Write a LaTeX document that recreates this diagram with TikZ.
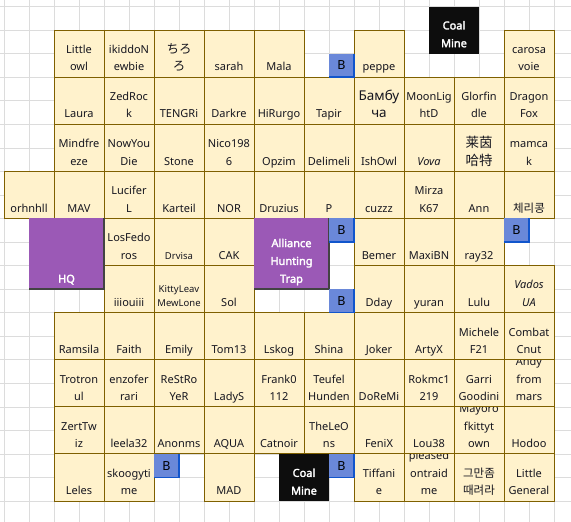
\documentclass[tikz,border=0pt]{standalone}
\usepackage{fontspec}
\setmainfont{Noto Sans}
\newfontfamily\wbold{Noto Sans}[FakeBold=2.5]
\newfontfamily\cjkjp{Noto Sans CJK JP}
\newfontfamily\cjksc{Noto Sans CJK SC}
\newfontfamily\cjkkr{Noto Sans CJK KR}
\definecolor{cellfill}{HTML}{FFF2CC}
\definecolor{cellline}{HTML}{7F6000}
\definecolor{gridc}{HTML}{DCDCDC}
\definecolor{purp}{HTML}{9B59B6}
\definecolor{bfill}{HTML}{6A88D9}
\definecolor{bline}{HTML}{1155CC}
\definecolor{txt}{HTML}{16161F}
\definecolor{coal}{HTML}{0D0D0D}
\definecolor{shade}{HTML}{434343}
\tikzset{
  gridline/.style={draw=gridc, line width=1pt},
  ycell/.style={draw=cellline, fill=cellfill, line width=1pt, minimum width=50pt, minimum height=47.1pt, inner sep=0pt, outer sep=0pt},
  ytext/.style={anchor=south, inner sep=0pt, align=center, text=txt, font=\fontsize{11}{17.4}\selectfont},
  small/.style={font=\fontsize{9.5}{14.3}\selectfont, yshift=0.9pt},
  cyr/.style={font=\fontsize{13.5}{17.4}\selectfont},
  itx/.style={font=\itshape\fontsize{11}{17.4}\selectfont},
  jp/.style={font=\cjkjp\fontsize{12.5}{17.4}\selectfont},
  zh/.style={font=\cjksc\fontsize{13.5}{17.4}\selectfont},
  kr/.style={font=\cjkkr\fontsize{11.5}{17.4}\selectfont},
  purpbox/.style={fill=purp, draw=none, minimum width=75pt, minimum height=70.65pt, inner sep=0pt, outer sep=0pt, anchor=north west},
  coalbox/.style={fill=coal, draw=none, minimum width=50pt, inner sep=0pt, outer sep=0pt, anchor=north west},
  shadeline/.style={draw=shade, line width=1.6pt},
  wtext/.style={anchor=south, inner sep=0pt, align=center, text=white, font=\wbold\fontsize{11}{17.8}\selectfont},
  bbox/.style={fill=bfill, draw=none, minimum width=25pt, minimum height=23.55pt, inner sep=0pt, outer sep=0pt, anchor=north west, text=black, font=\fontsize{12.5}{14}\selectfont},
  bborder/.style={draw=bline, line width=1.5pt}
}
\newcommand\C[5][]{%
  \node[ycell] (#2) at ({79+50*(#3)},{53.55+47.1*(#4)}) {};
  \node[ytext,#1] (#2t) at ([yshift=0.8pt]#2.south) {#5\strut};}
\newcommand\CC[5][]{%
  \node[ycell] (#2) at ({79+50*(#3)},{53.55+47.1*(#4)}) {};
  \begin{scope}
    \clip ([xshift=0.5pt,yshift=-0.5pt]#2.north west) rectangle ([xshift=-0.5pt]#2.south east);
    \node[ytext,#1] (#2t) at ([yshift=0.8pt]#2.south) {#5\strut};
  \end{scope}}
\newcommand\Bx[3]{%
  \node[bbox] (#1) at (#2,#3) {B};
  \draw[bborder] (#1.north east) -- (#1.south east) -- (#1.south west);}
\begin{document}
\begin{tikzpicture}[x=1pt,y=-1pt]
\useasboundingbox (0,0) rectangle (571,522);
\fill[white] (0,0) rectangle (571,522);
% background sheet grid
\foreach \i in {0,...,22} \draw[gridline] ({4.3+25*\i},0) -- ({4.3+25*\i},522);
\foreach \j in {0,...,21} \draw[gridline] (0,{6.7+23.55*\j}) -- (571,{6.7+23.55*\j});
% row 0
\C{a0}{0}{0}{Little\\owl}
\C{a1}{1}{0}{ikiddoN\\ewbie}
\C[jp]{a2}{2}{0}{ちろ\\ろ}
\C{a3}{3}{0}{sarah}
\C{a4}{4}{0}{Mala}
\C{a6}{6}{0}{peppe}
\C{a9}{9}{0}{carosa\\voie}
% row 1
\C{b0}{0}{1}{Laura}
\C{b1}{1}{1}{ZedRoc\\k}
\C{b2}{2}{1}{TENGRi}
\C{b3}{3}{1}{Darkre}
\C{b4}{4}{1}{HiRurgo}
\C{b5}{5}{1}{Tapir}
\C[cyr]{b6}{6}{1}{Бамбу\\ча}
\C{b7}{7}{1}{MoonLig\\htD}
\C{b8}{8}{1}{Glorfin\\dle}
\C{b9}{9}{1}{Dragon\\Fox}
% row 2
\C{c0}{0}{2}{Mindfre\\eze}
\C{c1}{1}{2}{NowYou\\Die}
\C{c2}{2}{2}{Stone}
\C{c3}{3}{2}{Nico198\\6}
\C{c4}{4}{2}{Opzim}
\C{c5}{5}{2}{Delimeli}
\C{c6}{6}{2}{IshOwl}
\C[itx]{c7}{7}{2}{Vova}
\C[zh]{c8}{8}{2}{莱茵\\哈特}
\C{c9}{9}{2}{mamca\\k}
% row 3
\C{dm}{-1}{3}{orhnhll}
\C{d0}{0}{3}{MAV}
\C{d1}{1}{3}{Lucifer\\L}
\C{d2}{2}{3}{Karteil}
\C{d3}{3}{3}{NOR}
\C{d4}{4}{3}{Druzius}
\C{d5}{5}{3}{P}
\C{d6}{6}{3}{cuzzz}
\C{d7}{7}{3}{Mirza\\K67}
\C{d8}{8}{3}{Ann}
\C[kr]{d9}{9}{3}{체리콩}
% row 4
\C{e1}{1}{4}{LosFedo\\ros}
\C[small]{e2}{2}{4}{Drvisa}
\C{e3}{3}{4}{CAK}
\C{e6}{6}{4}{Bemer}
\C{e7}{7}{4}{MaxiBN}
\C{e8}{8}{4}{ray32}
% row 5
\C{f1}{1}{5}{iiiouiii}
\C[small]{f2}{2}{5}{KittyLeav\\MewLone}
\C{f3}{3}{5}{Sol}
\C{f6}{6}{5}{Dday}
\C{f7}{7}{5}{yuran}
\C{f8}{8}{5}{Lulu}
\C[itx]{f9}{9}{5}{Vados\\UA}
% row 6
\C{g0}{0}{6}{Ramsila}
\C{g1}{1}{6}{Faith}
\C{g2}{2}{6}{Emily}
\C{g3}{3}{6}{Tom13}
\C{g4}{4}{6}{Lskog}
\C{g5}{5}{6}{Shina}
\C{g6}{6}{6}{Joker}
\C{g7}{7}{6}{ArtyX}
\C{g8}{8}{6}{Michele\\F21}
\C{g9}{9}{6}{Combat\\Cnut}
% row 7
\C{h0}{0}{7}{Trotron\\ul}
\C{h1}{1}{7}{enzofer\\rari}
\C{h2}{2}{7}{ReStRo\\YeR}
\C{h3}{3}{7}{LadyS}
\C{h4}{4}{7}{Frank0\\112}
\C{h5}{5}{7}{Teufel\\Hunden}
\C{h6}{6}{7}{DoReMi}
\C{h7}{7}{7}{Rokmc1\\219}
\C{h8}{8}{7}{Garri\\Goodini}
\CC{h9}{9}{7}{Andy\\from\\mars}
% row 8
\C{i0}{0}{8}{ZertTw\\iz}
\C{i1}{1}{8}{leela32}
\C{i2}{2}{8}{Anonms}
\C{i3}{3}{8}{AQUA}
\C{i4}{4}{8}{Catnoir}
\C{i5}{5}{8}{TheLeO\\ns}
\C{i6}{6}{8}{FeniX}
\C{i7}{7}{8}{Lou38}
\CC{i8}{8}{8}{Mayoro\\fkittyt\\own}
\C{i9}{9}{8}{Hodoo}
% row 9
\C{j0}{0}{9}{Leles}
\C{j1}{1}{9}{skoogyti\\me}
\C{j3}{3}{9}{MAD}
\C{j6}{6}{9}{Tiffani\\e}
\CC{j7}{7}{9}{pleased\\ontraid\\me}
\C[kr]{j8}{8}{9}{그만좀\\때려라}
\C{j9}{9}{9}{Little\\General}
% special blocks
\node[purpbox] (hq) at (29,218.4) {};
\draw[shadeline] (hq.north east) -- (hq.south east) -- (hq.south west);
\node[wtext] (hqt) at ([yshift=0.8pt]hq.south) {HQ\strut};
\node[purpbox] (trap) at (254,218.4) {};
\draw[shadeline] (trap.north east) -- (trap.south east) -- (trap.south west);
\node[wtext] (trapt) at ([yshift=0.8pt]trap.south) {Alliance\\Hunting\\Trap\strut};
\node[coalbox, minimum height=46.85pt] (coal1) at (429,6.7) {};
\node[wtext] (coal1t) at ([yshift=0.8pt]coal1.south) {Coal\\Mine\strut};
\node[coalbox, minimum height=47.1pt] (coal2) at (279,453.9) {};
\node[wtext] (coal2t) at ([yshift=0.8pt]coal2.south) {Coal\\Mine\strut};
% B markers
\Bx{bm1}{329}{53.55}
\Bx{bm2}{329}{218.4}
\Bx{bm3}{329}{289.05}
\Bx{bm4}{504}{218.4}
\Bx{bm5}{154}{453.9}
\Bx{bm6}{329}{453.9}
\end{tikzpicture}
\end{document}
